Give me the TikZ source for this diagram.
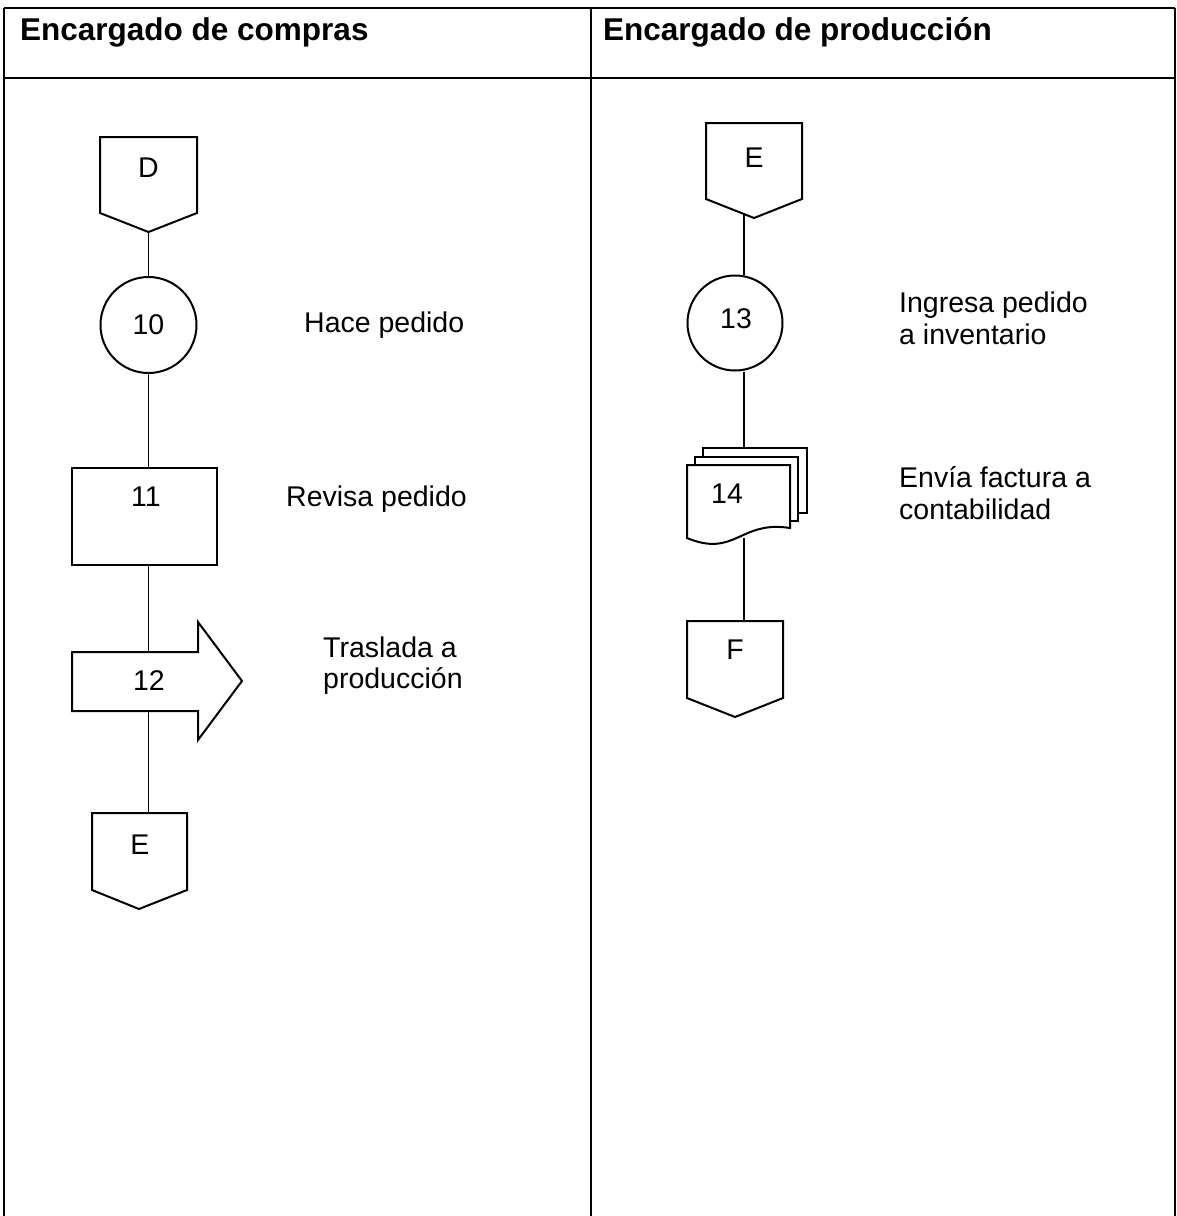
\documentclass[tikz,border=0pt]{standalone}
\usepackage{fontspec}
\setmainfont{Liberation Sans}
\usetikzlibrary{calc}
\begin{document}
\begin{tikzpicture}[x=1pt,y=-1pt,
  frame/.style={line width=2pt,black},
  outline/.style={line width=2pt,black,fill=white,line join=miter},
  link/.style={line width=1.7pt,black},
  num/.style={inner sep=0pt,font=\fontsize{28.5}{32}\selectfont},
  note/.style={inner sep=0pt,align=left,font=\fontsize{28.5}{32}\selectfont},
  head/.style={inner sep=0pt,anchor=base west,font=\fontsize{31.5}{36}\selectfont\bfseries}]
\useasboundingbox (0,0) rectangle (1177,1216);

% swimlane table
\draw[frame] (4,8) -- (1175,8);
\draw[frame] (4,78) -- (1175,78);
\draw[frame] (4,8) -- (4,1216);
\draw[frame] (591,8) -- (591,1216);
\draw[frame] (1175,8) -- (1175,1216);
\node[head] (h1) at (20,40) {Encargado de compras};
\node[head] (h2) at (603,40) {Encargado de producción};

% ---------- left lane ----------
\coordinate (Dtip) at (148.5,232);
\node[circle,draw,line width=2pt,minimum size=96pt,inner sep=0pt,font=\fontsize{28.5}{32}\selectfont] (n10) at (148.5,325) {10};
\node[draw,line width=2pt,minimum width=145pt,minimum height=97pt,inner sep=0pt] (n11) at (144.5,516) {};
\coordinate (a12top) at (148.5,652);
\coordinate (a12bot) at (148.5,711);
\coordinate (E1top) at (148.5,813);

\draw[link] (Dtip) -- (n10.north);
\draw[link] (n10.south) -- (n10.south |- n11.north);
\draw[link] (a12top |- n11.south) -- (a12top);
\draw[link] (a12bot) -- (E1top);

% off-page connector D
\draw[outline] (100,137) -- (197,137) -- (197,213) -- (Dtip) -- (100,213) -- cycle;
\node[num] (lD) at (148.5,168) {D};
\node[num] (l11) at (146,497) {11};
% block arrow 12
\draw[outline] (72,652) -- (198,652) -- (198,622) -- (242,681) -- (198,740) -- (198,711) -- (72,711) -- cycle;
\node[num] (l12) at (149,681) {12};
% off-page connector E
\draw[outline] (92,813) -- (187,813) -- (187,890) -- (139,909) -- (92,890) -- cycle;
\node[num] (lE1) at (140,845) {E};

\node[note,anchor=base west] (t10) at (304,332) {Hace pedido};
\node[note,anchor=base west] (t11) at (286,506) {Revisa pedido};
\node[note,anchor=base west] (t12a) at (323,657) {Traslada a};
\node[note,anchor=base west] (t12b) at (323,688) {producción};

% ---------- right lane ----------
\coordinate (E2cut) at (744,214);
\node[circle,draw,line width=2pt,minimum size=95pt,inner sep=0pt] (n13) at (735,323) {};
\coordinate (d14top) at (744,448);
\coordinate (d14bot) at (744,538);
\coordinate (Ftop) at (744,621);

\draw[link] (E2cut) -- (E2cut |- n13.north);
\draw[link] (E2cut |- n13.south) -- (d14top);
\draw[link] (d14bot) -- (Ftop);

% off-page connector E
\draw[outline] (706,123) -- (802,123) -- (802,199) -- (754,218) -- (706,199) -- cycle;
\node[num] (lE2) at (754,158) {E};
\node[num] (l13) at (736,319) {13};
% multiple documents 14
\draw[outline] (703,448) rectangle (807,513);
\draw[outline] (695,457) rectangle (798,521);
\draw[outline] (687,465) -- (790,465) -- (790,528)
  .. controls (740,520) and (735,558) .. (687,538) -- cycle;
\node[num] (l14) at (727,494) {14};
% off-page connector F
\draw[outline] (687,621) -- (783,621) -- (783,698) -- (735,717) -- (687,698) -- cycle;
\node[num] (lF) at (735,650) {F};

\node[note,anchor=base west] (t13a) at (899,312) {Ingresa pedido};
\node[note,anchor=base west] (t13b) at (899,344) {a inventario};
\node[note,anchor=base west] (t14a) at (899,487) {Envía factura a};
\node[note,anchor=base west] (t14b) at (899,519) {contabilidad};
\end{tikzpicture}
\end{document}
